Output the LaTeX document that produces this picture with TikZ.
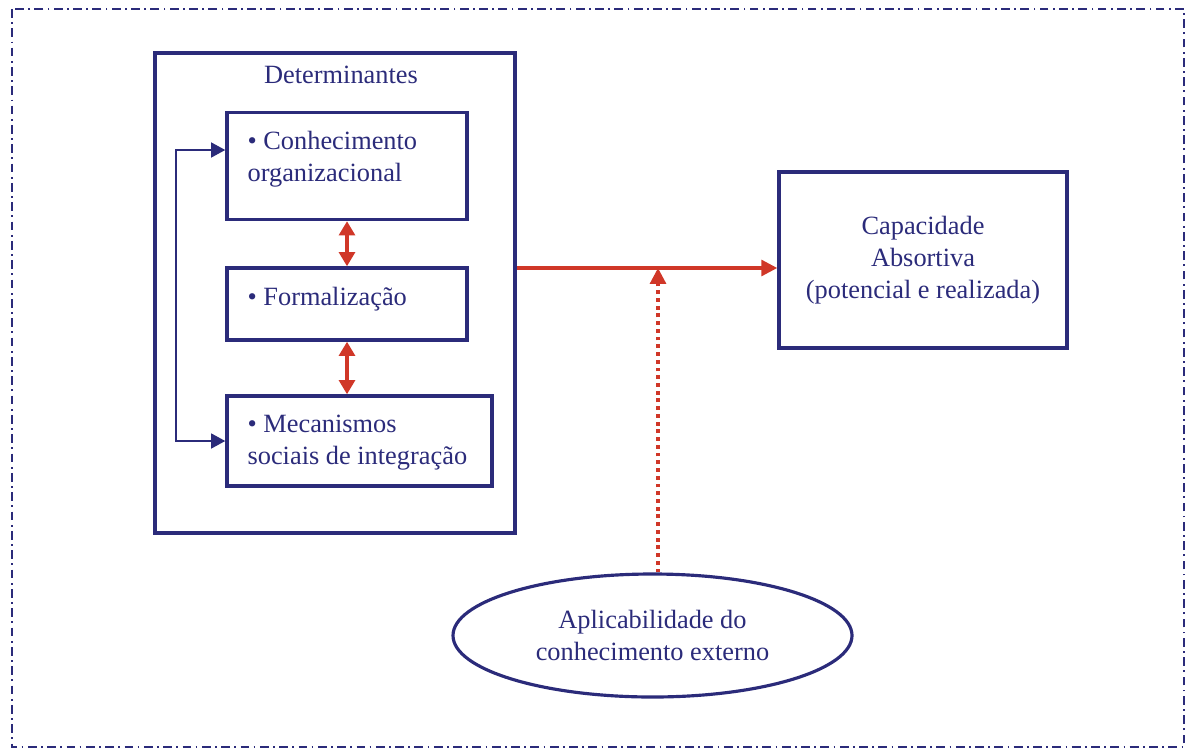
\documentclass[tikz,border=0pt]{standalone}
\usepackage{fontspec}
\setmainfont{Liberation Serif}
\usetikzlibrary{shapes,arrows.meta}
\definecolor{navy}{RGB}{43,43,122}
\definecolor{arrowred}{RGB}{208,55,40}
\tikzstyle{frame} = [draw=navy, line width=1.1pt,
    dash pattern=on 5pt off 2.5pt on 1pt off 2.5pt]
\tikzstyle{group} = [rectangle, draw=navy, line width=2pt,
    minimum width=7.2cm, minimum height=9.6cm]
\tikzstyle{heading} = [text=navy]
\tikzstyle{block} = [rectangle, draw=navy, line width=2pt, minimum width=4.8cm]
\tikzstyle{item} = [text=navy, align=left, inner sep=0pt, anchor=north west]
\tikzstyle{result} = [rectangle, draw=navy, line width=2pt, text=navy,
    align=center, minimum width=5.76cm, minimum height=3.52cm]
\tikzstyle{source} = [ellipse, draw=navy, line width=1.8pt, text=navy,
    align=center, minimum width=7.98cm, minimum height=2.46cm, inner sep=0pt]
\tikzstyle{link} = [draw=navy, line width=0.9pt,
    {Triangle[width=8.5pt,length=8pt]}-{Triangle[width=8.5pt,length=8pt]}]
\tikzstyle{mutual} = [draw=arrowred, line width=1.8pt,
    {Triangle[width=9pt,length=8pt]}-{Triangle[width=9pt,length=8pt]}]
\tikzstyle{line} = [draw=arrowred, line width=1.8pt, -{Triangle[width=9pt,length=9pt]}]
\tikzstyle{moderator} = [draw=arrowred, line width=1.8pt,
    dash pattern=on 2.2pt off 2.2pt, -{Triangle[width=9pt,length=9pt]}]

\begin{document}
\begin{tikzpicture}[font=\fontsize{15}{18.2}\selectfont]
    \useasboundingbox (0,0) rectangle (23.74,-15.04);
    \draw [frame] (0.24,-0.18) rectangle (23.68,-14.94);
    % Place nodes
    \node [group] (det) at (6.7,-5.86) {};
    \node [heading] (dettitle) at (6.82,-1.5) {Determinantes};
    \node [block, minimum height=2.14cm] (conh) at (6.94,-3.32) {};
    \node [block, minimum height=1.44cm, below of=conh, node distance=2.76cm] (form) {};
    \node [block, minimum height=1.8cm, minimum width=5.3cm, below of=form, node distance=2.74cm, xshift=0.25cm] (mec) {};
    \node [item] (conhtext) at ([shift={(0.44,-0.4)}]conh.north west)
        {\textbullet\ Conhecimento\\organizacional};
    \node [item] (formtext) at ([shift={(0.44,-0.42)}]form.north west)
        {\textbullet\ Formaliza\c{c}\~ao};
    \node [item] (mectext) at ([shift={(0.44,-0.4)}]mec.north west)
        {\textbullet\ Mecanismos\\sociais de integra\c{c}\~ao};
    \node [result] (cap) at (18.46,-5.2) {Capacidade\\Absortiva\\(potencial e realizada)};
    \node [source] (appl) at (13.05,-12.71) {Aplicabilidade do\\conhecimento externo};
    \coordinate (join) at (13.16,-5.36);
    % Draw edges
    \path [link] ([yshift=0.32cm]conh.west) -- ++(-0.98,0) |- (mec.west);
    \path [mutual] (conh.south) -- (form.north);
    \path [mutual] (form.south) -- (mec.north -| form.south);
    \path [line] (det.east |- join) -- (cap.west |- join);
    \path [moderator] (appl.north -| join) -- (join);
\end{tikzpicture}
\end{document}
